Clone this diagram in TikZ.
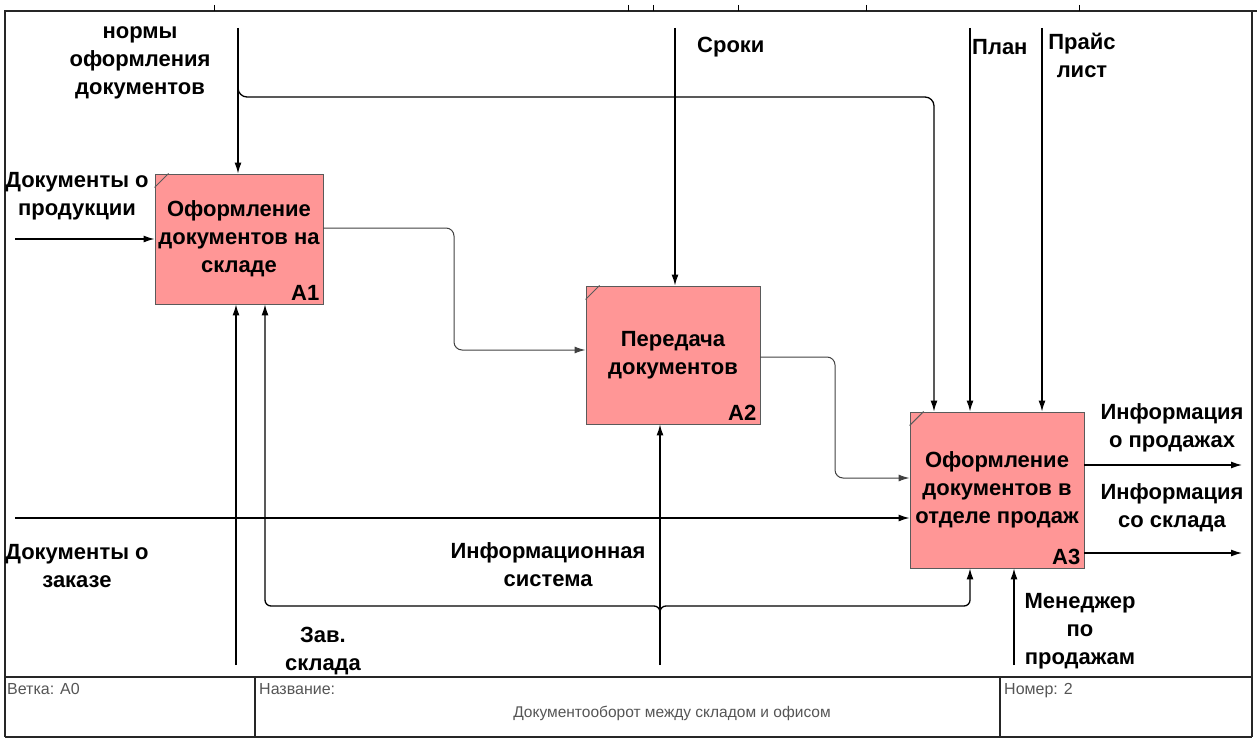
\documentclass[tikz,border=0pt]{standalone}
\usepackage{fontspec}
\setmainfont{Liberation Sans}
\usetikzlibrary{arrows.meta}
\definecolor{boxfill}{RGB}{255,150,150}
\definecolor{boxline}{RGB}{90,90,90}
\definecolor{titlegray}{RGB}{85,85,85}
\begin{document}
\begin{tikzpicture}[x=1pt,y=-1pt,
  func/.style={draw=boxline, line width=0.9pt, fill=boxfill, inner sep=0pt,
    align=center, font=\fontsize{22}{28}\selectfont\bfseries},
  num/.style={anchor=south east, inner sep=0pt, font=\fontsize{22}{24}\selectfont\bfseries},
  lab/.style={align=center, inner sep=0pt, font=\fontsize{22}{28}\selectfont\bfseries},
  arr/.style={line width=1.3pt, -{Latex[length=11pt,width=7pt]}},
  link/.style={line width=1pt, draw=black!75, rounded corners=8pt, -{Latex[length=11pt,width=7pt]}},
  frame/.style={line width=1.2pt, draw=black!85},
  tinfo/.style={anchor=north west, inner sep=0pt, text=titlegray, font=\fontsize{16}{18}\selectfont}
]
\useasboundingbox (0,0) rectangle (1257,738);

% sheet frame and title block
\draw[frame] (5,737) -- (5,11) -- (1257,11);
\draw[frame] (1252,11) -- (1252,737);
\draw[frame] (5,737) -- (1252,737);
\draw[frame] (5,677) -- (1252,677);
\draw[frame] (255,677) -- (255,737);
\draw[frame] (1000,677) -- (1000,737);
\foreach \t in {214,628,653,738,866,1079} \draw[line width=0.6pt] (\t,5) -- (\t,11);

\node[tinfo] (branch) at (7,683) {Ветка: A0};
\node[tinfo] (tname) at (259,683) {Название:};
\node[anchor=center, inner sep=0pt, text=titlegray, font=\fontsize{15.5}{18}\selectfont] (title) at (672,713) {Документооборот между складом и офисом};
\node[tinfo] (tnum) at (1004,683) {Номер: 2};

% activity boxes
\node[func, minimum width=168pt, minimum height=130pt] (A1) at (239,239) {Оформление\\документов на\\складе};
\node[func, minimum width=174pt, minimum height=138pt] (A2) at (673,355) {Передача\\документов};
\node[func, minimum width=174pt, minimum height=156pt] (A3) at (997,490) {Оформление\\документов в\\отделе продаж};
\node[num] (n1) at ([xshift=-4pt,yshift=4pt]A1.south east) {A1};
\node[num] (n2) at ([xshift=-4pt,yshift=4pt]A2.south east) {A2};
\node[num] (n3) at ([xshift=-4pt,yshift=4pt]A3.south east) {A3};
\foreach \b in {A1,A2,A3} \draw[boxline, line width=0.9pt] (\b.north west) ++(0,14) -- ++(14,-14);

% controls
\coordinate (norm0) at (238,28);
\coordinate (normb) at (238,84);
\coordinate (normc) at (934,97);
\coordinate (srok0) at (675,28);
\coordinate (plan0) at (970,28);
\coordinate (price0) at (1042,28);
\draw[arr] (norm0) -- (norm0 |- A1.north);
\draw[arr, rounded corners=9pt] (normb) |- (normc) -- (normc |- A3.north);
\draw[arr] (srok0) -- (srok0 |- A2.north);
\draw[arr] (plan0) -- (plan0 |- A3.north);
\draw[arr] (price0) -- (price0 |- A3.north);

% inputs
\coordinate (prod0) at (15,239);
\coordinate (order0) at (15,518);
\draw[arr] (prod0) -- (A1.west);
\draw[arr] (order0) -- (order0 -| A3.west);

% links between activities
\coordinate (k1) at (454,350);
\coordinate (k2) at (835,478);
\draw[link] ([yshift=11pt]A1.east) -| (k1) -- (k1 -| A2.west);
\draw[link] ([yshift=-2pt]A2.east) -| (k2) -- (k2 -| A3.west);

% mechanisms
\coordinate (boss0) at (236,665);
\coordinate (info0) at (660,665);
\coordinate (infoj) at (660,612);
\coordinate (infol) at (265,606);
\coordinate (infor) at (970,606);
\coordinate (mgr0) at (1014,665);
\draw[arr] (boss0) -- (boss0 |- A1.south);
\draw[arr] (info0) -- (info0 |- A2.south);
\draw[arr, rounded corners=6pt] (infoj) |- (infol) -- (infol |- A1.south);
\draw[arr, rounded corners=6pt] (infoj) |- (infor) -- (infor |- A3.south);
\draw[arr] (mgr0) -- (mgr0 |- A3.south);

% outputs
\coordinate (out1) at (1242,465);
\coordinate (out2) at (1242,553);
\draw[arr] (out1 -| A3.east) -- (out1);
\draw[arr] (out2 -| A3.east) -- (out2);

% arrow labels
\node[lab] (lnorm) at (140,63) {нормы\\оформления\\документов};
\node[lab, anchor=west] (lsrok) at (697,47) {Сроки};
\node[lab, anchor=west] (lplan) at (972,47) {План};
\node[lab] (lprice) at (1082,55) {Прайс\\лист};
\node[lab] (lprod) at (77,196) {Документы о\\продукции};
\node[lab] (lorder) at (77,566) {Документы о\\заказе};
\node[lab] (linfo) at (548,565) {Информационная\\система};
\node[lab] (lboss) at (323,651) {Зав.\\склада};
\node[lab] (lmgr) at (1080,631) {Менеджер\\по\\продажам};
\node[lab] (lout1) at (1172,428) {Информация\\о продажах};
\node[lab] (lout2) at (1172,508) {Информация\\со склада};
\end{tikzpicture}
\end{document}
